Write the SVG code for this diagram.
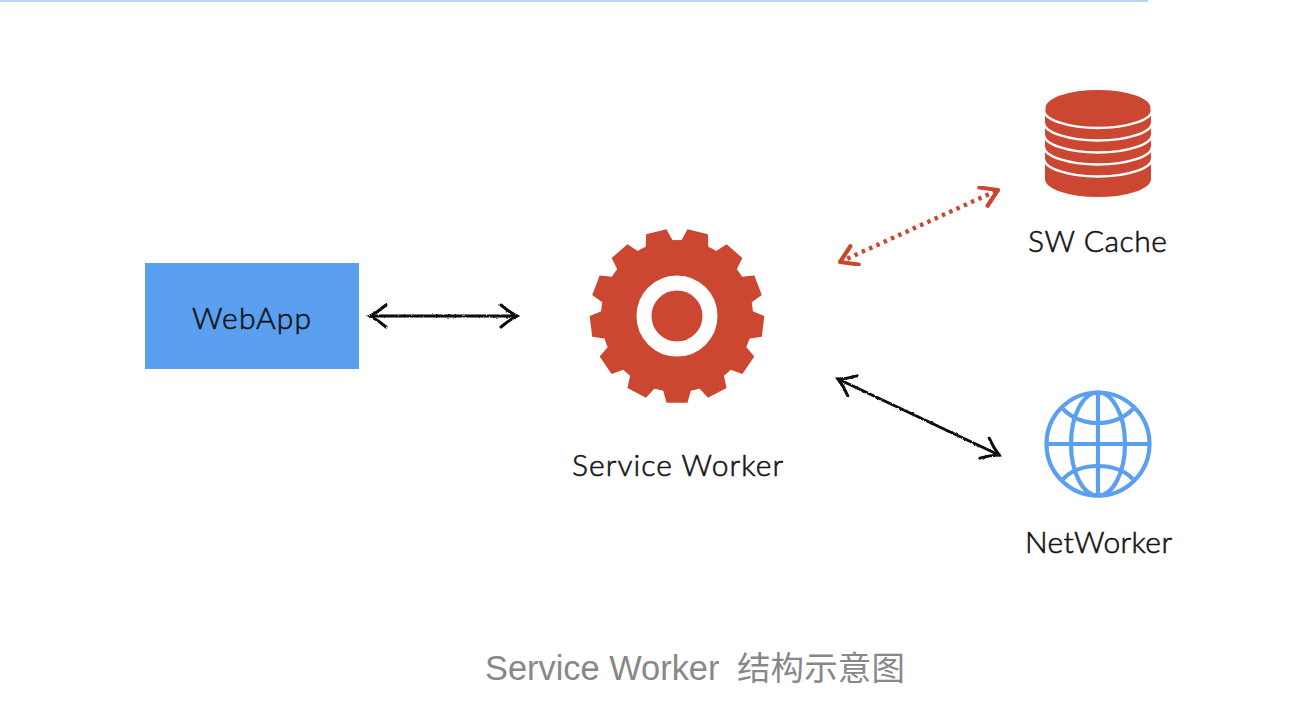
<svg xmlns="http://www.w3.org/2000/svg" xmlns:xlink="http://www.w3.org/1999/xlink" width="1290" height="702" viewBox="0 0 1290 702">
<style>
.hand{font-family:"Lato","Noto Sans",sans-serif;font-size:30px;font-weight:300;fill:#141414;stroke:#141414;stroke-width:.6px}
.red{fill:#cc4630}
.globe{fill:none;stroke:#5a9ff0;stroke-width:4.2}
.band{fill:none;stroke:#fff;stroke-width:2.4}
.conn{fill:none;stroke:#0c0c0c;stroke-width:3;stroke-linecap:round}
.soft{filter:url(#soft)}
</style>
<defs>
<filter id="soft" x="-5%" y="-5%" width="110%" height="110%"><feGaussianBlur stdDeviation="0.45"/></filter>
<filter id="rough" filterUnits="userSpaceOnUse" x="350" y="170" width="670" height="300"><feTurbulence type="fractalNoise" baseFrequency="0.35" numOctaves="2" seed="4"/><feDisplacementMap in="SourceGraphic" scale="2.2" xChannelSelector="R" yChannelSelector="G"/><feGaussianBlur stdDeviation="0.35"/></filter>
<marker id="headK" markerUnits="userSpaceOnUse" markerWidth="30" markerHeight="30" refX="20" refY="15" orient="auto-start-reverse" overflow="visible"><path d="M4,4 Q12,11 20,15 Q12,19 4,26" fill="none" stroke="#0c0c0c" stroke-width="3" stroke-linecap="round"/></marker>
<marker id="headR" markerUnits="userSpaceOnUse" markerWidth="30" markerHeight="30" refX="20" refY="15" orient="auto-start-reverse" overflow="visible"><path d="M4,5 L20,15 L4,25" fill="none" stroke="#cc4630" stroke-width="4.2" stroke-linecap="round" stroke-linejoin="round"/></marker>
<path id="tooth" class="red" d="M-14.5,-72 L-10.5,-86.7 L10.5,-86.7 L14.5,-72 Z"/>
</defs>
<rect width="1290" height="702" fill="#fff"/>
<rect id="topline" x="0" y="0" width="1148" height="2" fill="#b7d5fb"/>
<g id="connectors">
<path class="conn" filter="url(#rough)" d="M370,316 L517,316" marker-start="url(#headK)" marker-end="url(#headK)"/>
<path class="conn" filter="url(#rough)" d="M838,379 L999,455" marker-start="url(#headK)" marker-end="url(#headK)"/>
<path fill="none" stroke="#cc4630" stroke-width="4.4" stroke-dasharray="3.5 4.5" marker-start="url(#headR)" marker-end="url(#headR)" d="M840,262 L998,190" class="soft"/>
</g>
<g id="webapp">
<rect x="145" y="263" width="214" height="106" fill="#5a9ff0"/>
<text class="hand" x="192" y="328.5" textLength="119" lengthAdjust="spacing">WebApp</text>
</g>
<g id="service-worker">
<g class="soft">
<circle class="red" cx="677" cy="316" r="76"/>
<g transform="translate(677 316)">
<use xlink:href="#tooth" href="#tooth" transform="rotate(13.85)"/>
<use xlink:href="#tooth" href="#tooth" transform="rotate(41.54)"/>
<use xlink:href="#tooth" href="#tooth" transform="rotate(69.23)"/>
<use xlink:href="#tooth" href="#tooth" transform="rotate(96.92)"/>
<use xlink:href="#tooth" href="#tooth" transform="rotate(124.62)"/>
<use xlink:href="#tooth" href="#tooth" transform="rotate(152.31)"/>
<use xlink:href="#tooth" href="#tooth" transform="rotate(180)"/>
<use xlink:href="#tooth" href="#tooth" transform="rotate(207.69)"/>
<use xlink:href="#tooth" href="#tooth" transform="rotate(235.38)"/>
<use xlink:href="#tooth" href="#tooth" transform="rotate(263.08)"/>
<use xlink:href="#tooth" href="#tooth" transform="rotate(290.77)"/>
<use xlink:href="#tooth" href="#tooth" transform="rotate(318.46)"/>
<use xlink:href="#tooth" href="#tooth" transform="rotate(346.15)"/>
</g>
<circle cx="677" cy="316" r="33" fill="none" stroke="#fff" stroke-width="15"/>
</g>
<text class="hand" x="572" y="476" textLength="211" lengthAdjust="spacing">Service Worker</text>
</g>
<g id="sw-cache">
<g class="soft">
<path class="red" d="M1045,110 L1045,179 A53,18 0 0 0 1151,179 L1151,110 Z"/>
<ellipse class="red" cx="1098" cy="108" rx="52.5" ry="18"/>
<path class="band" d="M1044,110 A54,18 0 0 0 1152,110"/>
<path class="band" d="M1044,122.500 A54,18 0 0 0 1152,122.500"/>
<path class="band" d="M1044,134.500 A54,18 0 0 0 1152,134.500"/>
<path class="band" d="M1044,146.500 A54,18 0 0 0 1152,146.500"/>
<path class="band" d="M1044,158.500 A54,18 0 0 0 1152,158.500"/>
</g>
<text class="hand" x="1028" y="252" textLength="139" lengthAdjust="spacing">SW Cache</text>
</g>
<g id="networker">
<g class="soft">
<circle class="globe" cx="1098" cy="444" r="51.500"/>
<ellipse class="globe" cx="1098" cy="444" rx="27" ry="51.500"/>
<path class="globe" d="M1098,393 L1098,495 M1047,444 L1149,444"/>
<path class="globe" d="M1063,409 C1072,418 1085,423 1098,423 C1111,423 1124,418 1133,409"/>
<path class="globe" d="M1063,479 C1072,470 1085,466 1098,466 C1111,466 1124,470 1133,479"/>
</g>
<text class="hand" x="1025" y="553" textLength="147" lengthAdjust="spacing">NetWorker</text>
</g>
<text id="caption" y="680" font-family="'Liberation Sans','Noto Sans CJK SC',sans-serif" fill="#888888"><tspan x="485" font-size="34.400">Service Worker</tspan><tspan x="737" font-size="33.500" letter-spacing="0.1">结构示意图</tspan></text>
</svg>
